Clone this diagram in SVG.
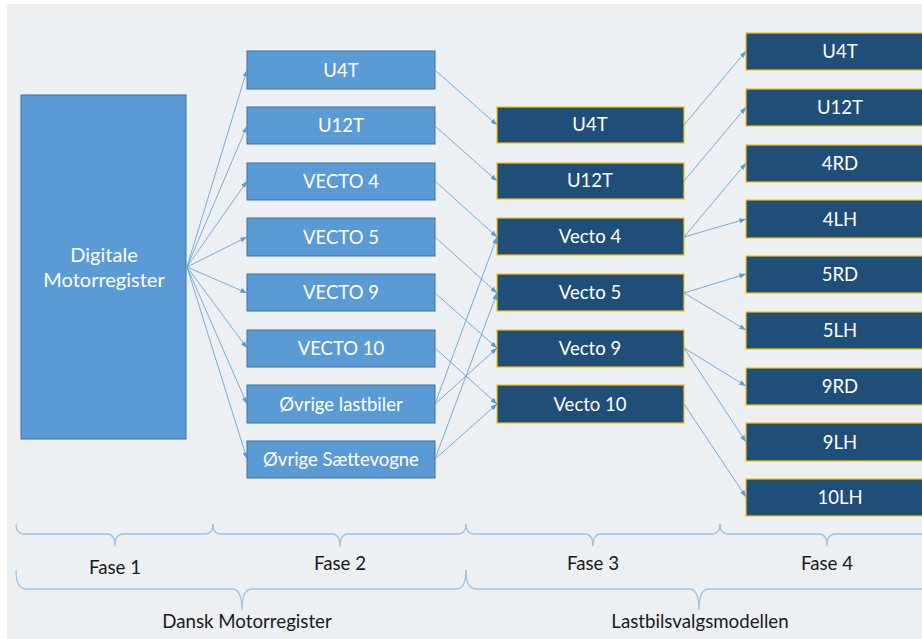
<svg xmlns="http://www.w3.org/2000/svg" width="922" height="639" viewBox="0 0 922 639">
  <defs>
    <marker id="arr" viewBox="0 0 8 6" refX="8" refY="3" markerWidth="7" markerHeight="5" orient="auto" markerUnits="userSpaceOnUse">
      <path d="M0,0 L8,3 L0,6 Z" fill="#5b9bd5"/>
    </marker>
    <style>
      .src { fill: #5b9bd5; stroke: #41719c; stroke-width: 1; }
      .p2 { fill: #5b9bd5; stroke: #41719c; stroke-width: 1; }
      .dk { fill: #1f4e79; stroke: #ffc000; stroke-width: 1.2; }
      .lbl { font-family: Lato, "Open Sans", sans-serif; font-size: 18.5px; fill: #ffffff; text-anchor: middle; }
      .cap { font-family: Lato, "Open Sans", sans-serif; font-size: 18.7px; fill: #1a1a1a; text-anchor: middle; }
      .con line { stroke: #5b9bd5; stroke-width: 0.8; marker-end: url(#arr); }
      .brace { fill: none; stroke: #9dc3e6; stroke-width: 1.3; }
    </style>
  </defs>

  <rect x="0" y="0" width="922" height="639" fill="#ffffff"/>
  <rect x="7" y="4" width="915" height="635" fill="#edf0f3"/>

  <!-- source register -->
  <g id="digitale">
    <rect class="src" x="21" y="95" width="165" height="344"/>
    <text class="lbl" x="104" y="262" style="font-size:20px">Digitale</text>
    <text class="lbl" x="104" y="287" style="font-size:20px">Motorregister</text>
  </g>

  <!-- phase 2 boxes -->
  <g id="p2-u4t"><rect class="p2" x="247" y="51" width="188" height="38"/><text class="lbl" x="341" y="77">U4T</text></g>
  <g id="p2-u12t"><rect class="p2" x="247" y="107" width="188" height="37"/><text class="lbl" x="341" y="132">U12T</text></g>
  <g id="p2-vecto4"><rect class="p2" x="247" y="163" width="188" height="37"/><text class="lbl" x="341" y="188">VECTO 4</text></g>
  <g id="p2-vecto5"><rect class="p2" x="247" y="218" width="188" height="38"/><text class="lbl" x="341" y="244">VECTO 5</text></g>
  <g id="p2-vecto9"><rect class="p2" x="247" y="274" width="188" height="37"/><text class="lbl" x="341" y="299">VECTO 9</text></g>
  <g id="p2-vecto10"><rect class="p2" x="247" y="330" width="188" height="37"/><text class="lbl" x="341" y="355">VECTO 10</text></g>
  <g id="p2-lastbiler"><rect class="p2" x="247" y="385" width="188" height="38"/><text class="lbl" x="341" y="411">Øvrige lastbiler</text></g>
  <g id="p2-saettevogne"><rect class="p2" x="247" y="441" width="188" height="37"/><text class="lbl" x="341" y="466">Øvrige Sættevogne</text></g>

  <!-- phase 3 boxes -->
  <g id="p3-u4t"><rect class="dk" x="497" y="107" width="187" height="36"/><text class="lbl" x="590" y="131">U4T</text></g>
  <g id="p3-u12t"><rect class="dk" x="497" y="163" width="187" height="36"/><text class="lbl" x="590" y="187">U12T</text></g>
  <g id="p3-vecto4"><rect class="dk" x="497" y="218" width="187" height="37"/><text class="lbl" x="590" y="243">Vecto 4</text></g>
  <g id="p3-vecto5"><rect class="dk" x="497" y="274" width="187" height="37"/><text class="lbl" x="590" y="299">Vecto 5</text></g>
  <g id="p3-vecto9"><rect class="dk" x="497" y="330" width="187" height="37"/><text class="lbl" x="590" y="355">Vecto 9</text></g>
  <g id="p3-vecto10"><rect class="dk" x="497" y="385" width="187" height="38"/><text class="lbl" x="590" y="411">Vecto 10</text></g>

  <!-- phase 4 boxes -->
  <g id="p4-u4t"><rect class="dk" x="746" y="33" width="188" height="37"/><text class="lbl" x="840" y="58">U4T</text></g>
  <g id="p4-u12t"><rect class="dk" x="746" y="89" width="188" height="37"/><text class="lbl" x="840" y="114">U12T</text></g>
  <g id="p4-4rd"><rect class="dk" x="746" y="145" width="188" height="37"/><text class="lbl" x="840" y="170">4RD</text></g>
  <g id="p4-4lh"><rect class="dk" x="746" y="200" width="188" height="38"/><text class="lbl" x="840" y="226">4LH</text></g>
  <g id="p4-5rd"><rect class="dk" x="746" y="256" width="188" height="37"/><text class="lbl" x="840" y="281">5RD</text></g>
  <g id="p4-5lh"><rect class="dk" x="746" y="312" width="188" height="37"/><text class="lbl" x="840" y="337">5LH</text></g>
  <g id="p4-9rd"><rect class="dk" x="746" y="368" width="188" height="37"/><text class="lbl" x="840" y="393">9RD</text></g>
  <g id="p4-9lh"><rect class="dk" x="746" y="423" width="188" height="38"/><text class="lbl" x="840" y="449">9LH</text></g>
  <g id="p4-10lh"><rect class="dk" x="746" y="479" width="188" height="37"/><text class="lbl" x="840" y="504">10LH</text></g>

  <!-- connectors -->
  <g id="connectors" class="con">
    <line x1="187" y1="267" x2="247" y2="70"/>
    <line x1="187" y1="267" x2="247" y2="126"/>
    <line x1="187" y1="267" x2="247" y2="181"/>
    <line x1="187" y1="267" x2="247" y2="237"/>
    <line x1="187" y1="267" x2="247" y2="293"/>
    <line x1="187" y1="267" x2="247" y2="348"/>
    <line x1="187" y1="267" x2="247" y2="404"/>
    <line x1="187" y1="267" x2="247" y2="459"/>

    <line x1="435" y1="70" x2="497" y2="125"/>
    <line x1="435" y1="126" x2="497" y2="181"/>
    <line x1="435" y1="181" x2="497" y2="237"/>
    <line x1="435" y1="237" x2="497" y2="293"/>
    <line x1="435" y1="293" x2="497" y2="348"/>
    <line x1="435" y1="348" x2="497" y2="404"/>
    <line x1="435" y1="404" x2="497" y2="237"/>
    <line x1="435" y1="404" x2="497" y2="348"/>
    <line x1="435" y1="459" x2="497" y2="293"/>
    <line x1="435" y1="459" x2="497" y2="404"/>

    <line x1="684" y1="125" x2="746" y2="51"/>
    <line x1="684" y1="181" x2="746" y2="107"/>
    <line x1="684" y1="237" x2="746" y2="163"/>
    <line x1="684" y1="237" x2="746" y2="219"/>
    <line x1="684" y1="293" x2="746" y2="274"/>
    <line x1="684" y1="293" x2="746" y2="330"/>
    <line x1="684" y1="348" x2="746" y2="386"/>
    <line x1="684" y1="348" x2="746" y2="442"/>
    <line x1="684" y1="404" x2="746" y2="497"/>
  </g>

  <!-- phase braces -->
  <g id="braces">
    <path class="brace" d="M16,524 Q16,534 24,534 L107,534 Q115,534 115,546 Q115,534 123,534 L205,534 Q213,534 213,524"/>
    <path class="brace" d="M213,524 Q213,534 221,534 L332,534 Q340,534 340,547 Q340,534 348,534 L458,534 Q466,534 466,524"/>
    <path class="brace" d="M466,524 Q466,534 474,534 L585,534 Q593,534 593,546 Q593,534 601,534 L712,534 Q720,534 720,524"/>
    <path class="brace" d="M720,524 Q720,534 728,534 L819,534 Q827,534 827,546 Q827,534 835,534 L930,534"/>
    <path class="brace" d="M16,570 Q16,589 26,589 L232,589 Q242,589 242,610 Q242,589 252,589 L456,589 Q466,589 466,570"/>
    <path class="brace" d="M466,570 Q466,589 476,589 L689,589 Q699,589 699,610 Q699,589 709,589 L930,589"/>
  </g>

  <g id="labels">
    <text class="cap" x="115" y="574">Fase 1</text>
    <text class="cap" x="340" y="570">Fase 2</text>
    <text class="cap" x="593" y="570">Fase 3</text>
    <text class="cap" x="827" y="570">Fase 4</text>
    <text class="cap" x="247" y="628">Dansk Motorregister</text>
    <text class="cap" x="700" y="628">Lastbilsvalgsmodellen</text>
  </g>
</svg>
